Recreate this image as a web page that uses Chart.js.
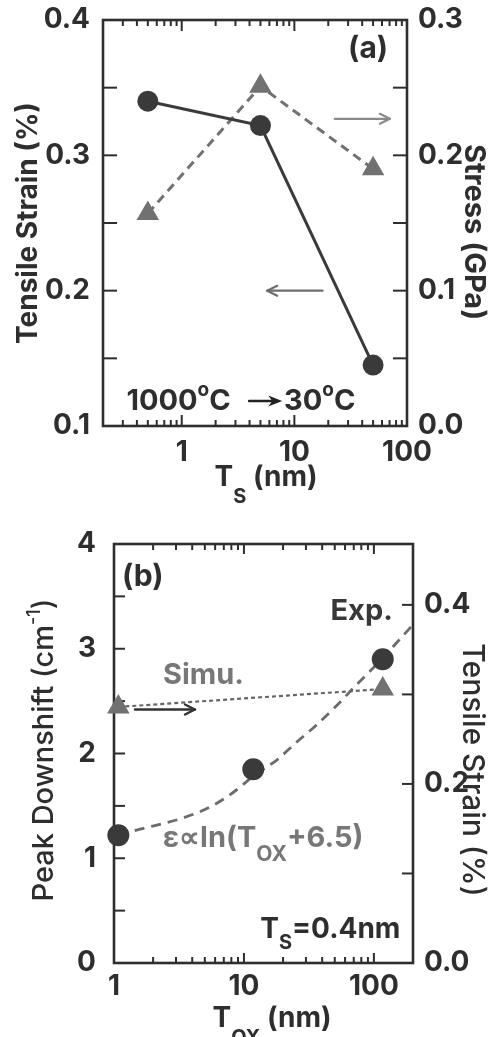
<!DOCTYPE html>
<html><head><meta charset="utf-8">
<script src="https://cdn.jsdelivr.net/npm/chart.js@4.4.0/dist/chart.umd.min.js"></script>
<style>
html,body{margin:0;padding:0;background:#fff;}
#wrap{position:relative;width:491px;height:1037px;overflow:hidden;}
canvas{position:absolute;left:0;}
#c1{top:0;} #c2{top:520px;}
</style></head><body>
<div id="wrap"><canvas id="c1" width="491" height="520"></canvas><canvas id="c2" width="491" height="517"></canvas></div>
<script>
// ---------- panel (a) data ----------
const tsValues = [0.5, 5, 50];
const strainA  = [0.340, 0.322, 0.145];
const stressA  = [0.157, 0.251, 0.190];
const xTickLabelsA = [1, 10, 100];
const xMinorA = [0.3,0.4,0.5,0.6,0.7,0.8,0.9,2,3,4,5,6,7,8,9,20,30,40,50,60,70,80,90];
const yTickLabelsA  = [0.1, 0.2, 0.3, 0.4];
const y2TickLabelsA = [0.0, 0.1, 0.2, 0.3];
const yInnerA  = [0.15, 0.2, 0.25, 0.3, 0.35];
const y2InnerA = [0.05, 0.1, 0.15, 0.2, 0.25];
// ---------- panel (b) data ----------
const toxExp = [1.08, 11.8, 117];
const downshiftExp = [1.22, 1.85, 2.90];
const toxSimu = [1.08, 117];
const strainSimu = [0.286, 0.306];
const toxFit = [1.08, 1.4, 3.3, 5.5, 8.3, 12, 18, 25, 36, 52, 74, 105, 200];
const downshiftFit = [1.22, 1.26, 1.38, 1.49, 1.63, 1.79, 1.94, 2.10, 2.27, 2.46, 2.66, 2.85, 3.23];
const xTickLabelsB = [1, 10, 100];
const xMinorB = [2,3,4,5,6,7,8,9,20,30,40,50,60,70,80,90];
const yTickLabelsB  = [0, 1, 2, 3, 4];
const y2TickLabelsB = [0.0, 0.2, 0.4];
const yInnerB  = [0.5,1,1.5,2,2.5,3,3.5];
const y2InnerB = [0.1,0.2,0.3,0.4];

const FAM = 'Inter, "Liberation Sans", Arial, sans-serif';
const INK = '#2e2e2e';
const DARK = '#3a3a3a';
const GREY = '#717171';
const tickFont = {family: FAM, size: 28, weight: 'bold', lineHeight: 1};

function fixedTicks(arr){ return s => { s.ticks = arr.map(v => ({value: v})); }; }
function seg(ctx,x1,y1,x2,y2){ctx.beginPath();ctx.moveTo(x1,y1);ctx.lineTo(x2,y2);ctx.stroke();}

function rich(ctx, parts, x, y, align, color){
  let w = 0;
  parts.forEach(p => { ctx.font = `${p[2]||'bold'} ${p[1]}px ${FAM}`; p.w = ctx.measureText(p[0]).width; w += p.w; });
  let cx = align === 'right' ? x - w : align === 'center' ? x - w/2 : x;
  ctx.textAlign = 'left'; ctx.textBaseline = 'alphabetic'; ctx.fillStyle = color;
  parts.forEach(p => { ctx.font = `${p[2]||'bold'} ${p[1]}px ${FAM}`; ctx.fillText(p[0], cx, y + (p[3]||0)); cx += p.w; });
}
function rotRich(ctx, parts, cx, cy, angle, size, color){
  ctx.save(); ctx.translate(cx, cy); ctx.rotate(angle);
  rich(ctx, parts, 0, 0.36*size, 'center', color);
  ctx.restore();
}
function arrow(ctx, x1, y1, x2, y2, color, lw, len, half, filled){
  ctx.save(); ctx.strokeStyle = color; ctx.fillStyle = color; ctx.lineWidth = lw; ctx.lineCap='round'; ctx.lineJoin='round';
  const dir = Math.sign(x2 - x1);
  if (filled){
    seg(ctx, x1, y1, x2 - dir*len*0.6, y2);
    ctx.beginPath(); ctx.moveTo(x2, y2); ctx.lineTo(x2 - dir*len, y2 - half); ctx.lineTo(x2 - dir*len*0.7, y2); ctx.lineTo(x2 - dir*len, y2 + half); ctx.closePath(); ctx.fill();
  } else {
    seg(ctx, x1, y1, x2, y2);
    ctx.beginPath(); ctx.moveTo(x2 - dir*len, y2 - half); ctx.lineTo(x2, y2); ctx.lineTo(x2 - dir*len, y2 + half); ctx.stroke();
  }
  ctx.restore();
}

function frameTicks(cfg){
  return { id: 'frameTicks', beforeDatasetsDraw(chart){
    const {ctx, chartArea: a, scales} = chart;
    ctx.save(); ctx.strokeStyle = INK; ctx.lineWidth = 2;
    cfg.xMajor.forEach(v => { const p = scales.x.getPixelForValue(v); if (p > a.left+1 && p < a.right-1){ seg(ctx,p,a.bottom,p,a.bottom-cfg.maj); seg(ctx,p,a.top,p,a.top+cfg.maj);} });
    cfg.xMinor.forEach(v => { const p = scales.x.getPixelForValue(v); seg(ctx,p,a.bottom,p,a.bottom-cfg.min); seg(ctx,p,a.top,p,a.top+cfg.min); });
    cfg.yLeft.forEach(v => { const p = scales.y.getPixelForValue(v); seg(ctx,a.left,p,a.left+cfg.yl,p); });
    cfg.yRight.forEach(v => { const p = scales.y2.getPixelForValue(v); seg(ctx,a.right,p,a.right-cfg.yl,p); });
    ctx.lineWidth = 2.6; ctx.strokeRect(a.left, a.top, a.right-a.left, a.bottom-a.top);
    ctx.restore();
  }};
}

const commonPlugins = {legend:{display:false}, tooltip:{enabled:false}};

// ---------------- chart (a) ----------------
const annotA = { id:'annotA', afterDatasetsDraw(chart){
  const {ctx, scales:{x, y, y2}} = chart;
  rich(ctx, [['(a)',30]], x.getPixelForValue(68), y.getPixelForValue(0.372), 'right', INK);
  arrow(ctx, x.getPixelForValue(22.8), y2.getPixelForValue(0.227), x.getPixelForValue(70.5), y2.getPixelForValue(0.227), '#8a8a8a', 2.2, 10, 5, false);
  arrow(ctx, x.getPixelForValue(17.8), y.getPixelForValue(0.2), x.getPixelForValue(5.74), y.getPixelForValue(0.2), '#6e6e6e', 2.2, 10, 5, false);
  rich(ctx, [['1000',29],['o',19,'bold',-14],['C',29]], x.getPixelForValue(0.323), y.getPixelForValue(0.112), 'left', INK);
  arrow(ctx, x.getPixelForValue(3.97), y.getPixelForValue(0.1185), x.getPixelForValue(7.8), y.getPixelForValue(0.1185), '#222', 2.6, 14, 5.5, true);
  rich(ctx, [['30',29],['o',19,'bold',-14],['C',29]], x.getPixelForValue(8.1), y.getPixelForValue(0.112), 'left', INK);
  // axis titles
  rich(ctx, [['T',28],['S',20,'bold',17],[' (nm)',28]], 266, 486, 'center', INK);
  rotRich(ctx, [['Tensile Strain (%)',28]], 27, 223, -Math.PI/2, 28, INK);
  rotRich(ctx, [['Stress (GPa)',29]], 475, 232, Math.PI/2, 29, INK);
}};

new Chart(document.getElementById('c1'), {
  type: 'line',
  data: { datasets: [
    { label: 'Tensile strain', data: tsValues.map((v,i)=>({x:v, y:strainA[i]})), yAxisID:'y',
      borderColor: DARK, backgroundColor: DARK, borderWidth: 3, pointRadius: 10.5, pointBorderWidth: 0,
      pointBackgroundColor: DARK, order: 1, clip: false },
    { label: 'Stress', data: tsValues.map((v,i)=>({x:v, y:stressA[i]})), yAxisID:'y2',
      borderColor: GREY, backgroundColor: GREY, borderWidth: 3, borderDash: [9,6], pointStyle: 'triangle',
      pointRadius: 13, pointBorderWidth: 0, pointBackgroundColor: GREY, order: 2, clip: false }
  ]},
  options: {
    responsive: false, animation: false, devicePixelRatio: 1,
    plugins: commonPlugins,
    layout: { padding: { top: 20, left: 0, right: 0, bottom: 0 } },
    scales: {
      x: { type: 'logarithmic', min: 0.2, max: 100, afterFit: s => { s.height = 94; },
           afterBuildTicks: fixedTicks(xTickLabelsA), grid: {display:false}, border: {display:false},
           ticks: { autoSkip:false, maxRotation:0, padding: 5, font: tickFont, color: INK, callback: v => String(v) } },
      y: { type: 'linear', position: 'left', min: 0.1, max: 0.4, afterFit: s => { s.width = 103; },
           afterBuildTicks: fixedTicks(yTickLabelsA), grid: {display:false}, border: {display:false},
           ticks: { autoSkip:false, padding: 5, font: tickFont, color: INK, callback: v => Number(v).toFixed(1) } },
      y2: { type: 'linear', position: 'right', min: 0, max: 0.3, afterFit: s => { s.width = 84; },
           afterBuildTicks: fixedTicks(y2TickLabelsA), grid: {display:false}, border: {display:false},
           ticks: { autoSkip:false, padding: 3, font: tickFont, color: INK, callback: v => Number(v).toFixed(1) } }
    }
  },
  plugins: [frameTicks({xMajor: xTickLabelsA, xMinor: xMinorA, yLeft: yInnerA, yRight: y2InnerA, maj: 11, min: 6, yl: 14}), annotA]
});

// ---------------- chart (b) ----------------
const annotB = { id:'annotB', afterDatasetsDraw(chart){
  const {ctx, scales:{x, y}} = chart;
  rich(ctx, [['(b)',30]], x.getPixelForValue(1.15), y.getPixelForValue(3.6), 'left', INK);
  rich(ctx, [['Exp.',29]], x.getPixelForValue(140), y.getPixelForValue(3.27), 'right', '#383838');
  rich(ctx, [['Simu.',29]], x.getPixelForValue(2.38), y.getPixelForValue(2.66), 'left', '#777');
  arrow(ctx, x.getPixelForValue(1.45), y.getPixelForValue(2.42), x.getPixelForValue(4.2), y.getPixelForValue(2.42), '#333', 2.4, 10, 5, false);
  rich(ctx, [['\u03b5\u221dln(T',29],['OX',21,'bold',14],['+6.5)',29]], x.getPixelForValue(2.38), y.getPixelForValue(1.11), 'left', '#777');
  rich(ctx, [['T',28],['S',20,'bold',11],['=0.4nm',28]], x.getPixelForValue(160), y.getPixelForValue(0.235), 'right', INK);
  // axis titles
  rich(ctx, [['T',28],['OX',20,'bold',17],[' (nm)',28]], 272, 507, 'center', INK);
  rotRich(ctx, [['Peak Downshift (cm',29,'500'],['-1',18,'500',-13],[')',29,'500']], 43, 230, -Math.PI/2, 29, INK);
  rotRich(ctx, [['Tensile Strain (%)',30,'500']], 474, 250, Math.PI/2, 30, INK);
}};

new Chart(document.getElementById('c2'), {
  type: 'line',
  data: { datasets: [
    { label: 'Exp.', data: toxExp.map((v,i)=>({x:v, y:downshiftExp[i]})), yAxisID:'y', showLine:false,
      backgroundColor: DARK, borderColor: DARK, pointRadius: 11, pointBorderWidth: 0, pointBackgroundColor: DARK, order: 0, clip: false },
    { label: 'Simu.', data: toxSimu.map((v,i)=>({x:v, y:strainSimu[i]})), yAxisID:'y2',
      borderColor: '#666', backgroundColor: GREY, borderWidth: 2.2, borderDash: [4,3], pointStyle: 'triangle',
      pointRadius: 13, pointBorderWidth: 0, pointBackgroundColor: GREY, order: 1, clip: false },
    { label: 'fit', data: toxFit.map((v,i)=>({x:v, y:downshiftFit[i]})), yAxisID:'y',
      borderColor: '#6b6b6b', borderWidth: 2.8, borderDash: [10,7], pointRadius: 0, cubicInterpolationMode: 'monotone', order: 2, clip: false }
  ]},
  options: {
    responsive: false, animation: false, devicePixelRatio: 1,
    plugins: commonPlugins,
    layout: { padding: { top: 18, left: 0, right: 0, bottom: 0 } },
    scales: {
      x: { type: 'logarithmic', min: 1, max: 200, afterFit: s => { s.height = 74; },
           afterBuildTicks: fixedTicks(xTickLabelsB), grid: {display:false}, border: {display:false},
           ticks: { autoSkip:false, maxRotation:0, padding: 2, font: tickFont, color: INK, callback: v => String(v) } },
      y: { type: 'linear', position: 'left', min: 0, max: 4, afterFit: s => { s.width = 114; },
           afterBuildTicks: fixedTicks(yTickLabelsB), grid: {display:false}, border: {display:false},
           ticks: { autoSkip:false, padding: 10, font: tickFont, color: INK, callback: v => String(v) } },
      y2: { type: 'linear', position: 'right', min: 0, max: 0.468, afterFit: s => { s.width = 78; },
           afterBuildTicks: fixedTicks(y2TickLabelsB), grid: {display:false}, border: {display:false},
           ticks: { autoSkip:false, padding: 3, font: tickFont, color: INK, callback: v => Number(v).toFixed(1) } }
    }
  },
  plugins: [frameTicks({xMajor: xTickLabelsB, xMinor: xMinorB, yLeft: yInnerB, yRight: y2InnerB, maj: 10, min: 6, yl: 11}), annotB]
});
</script>
</body></html>
